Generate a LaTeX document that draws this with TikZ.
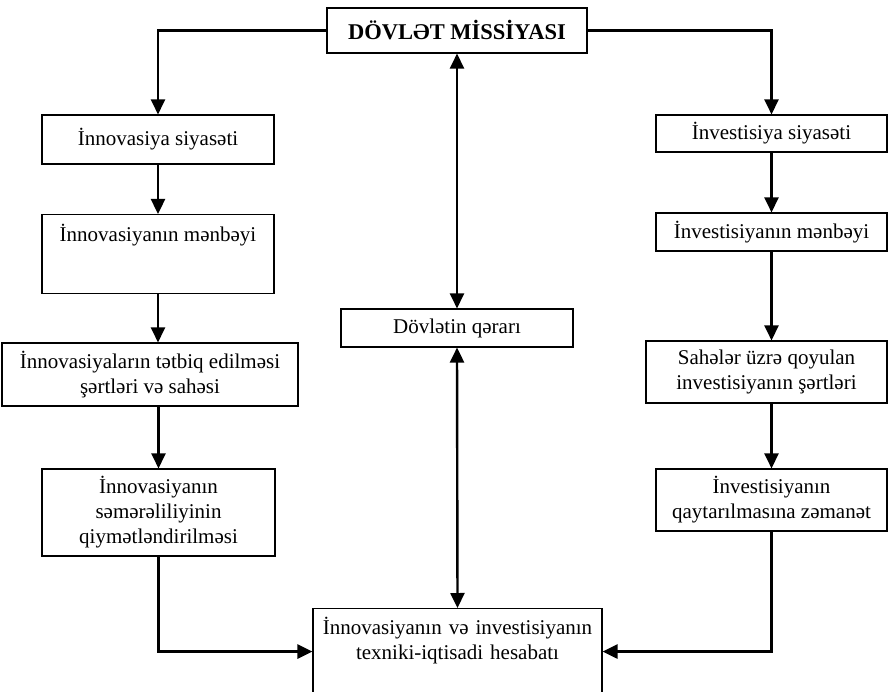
\documentclass[tikz,border=0pt]{standalone}
\usepackage{fontspec}
\setmainfont{Liberation Serif}
\usepackage{tikz}
\usetikzlibrary{arrows.meta}

\begin{document}
\begin{tikzpicture}[->,>={Triangle[length=15pt,width=14pt]},x=1pt,y=-1pt,
                    line width=2.4pt,font=\fontsize{21}{25}\selectfont]
  \tikzstyle{box}=[draw=black,line width=1.1pt,inner sep=0pt,align=center]
  \useasboundingbox (0,0) rectangle (888,692);

  \node[box,minimum width=260pt,minimum height=45pt,font=\fontsize{22.5}{25}\selectfont\bfseries]
       (mission) at (457,30.5) {DÖVLƏT MİSSİYASI};
  \node[box,minimum width=232pt,minimum height=38pt] (decision) at (457,328) {Dövlətin qərarı};
  \node[box,text width=289pt,text height=26pt,text depth=60pt,anchor=north]
       (report) at (457.5,608) {İnnovasiyanın və investisiyanın\\texniki-iqtisadi hesabatı};

  % innovasiya
  \node[box,minimum width=232pt,minimum height=49pt] (inn1) at (158,139.5) {İnnovasiya siyasəti};
  \node[box,minimum width=232pt,text height=27pt,text depth=52pt,anchor=north]
       (inn2) at (158,214) {İnnovasiyanın mənbəyi};
  \node[box,minimum width=296pt,minimum height=63pt] (inn3) at (150,374.5)
       {İnnovasiyaların tətbiq edilməsi\\şərtləri və sahəsi};
  \node[box,minimum width=233pt,minimum height=87pt] (inn4) at (158.5,512.5)
       {İnnovasiyanın\\səmərəliliyinin\\qiymətləndirilməsi};

  % investisiya
  \node[box,minimum width=231pt,minimum height=37pt] (inv1) at (771.5,133.5) {İnvestisiya siyasəti};
  \node[box,minimum width=231pt,minimum height=38pt] (inv2) at (771.5,232) {İnvestisiyanın mənbəyi};
  \node[box,minimum width=241pt,minimum height=62pt] (inv3) at (766.5,372)
       {Sahələr üzrə qoyulan\\investisiyanın şərtləri};
  \node[box,minimum width=231pt,minimum height=62pt] (inv4) at (771.5,500)
       {İnvestisiyanın\\qaytarılmasına zəmanət};

  \draw (mission.west) -| (inn1.north);
  \draw (mission.east) -| (inv1.north);
  \path (mission.south) edge [<->] (decision.north)
        (decision.south) edge [<->] (report.north)
        (inn1.south) edge (inn2.north)
        (inn2.south) edge (inn2.south |- inn3.north)
        (inn3.south -| inn4.north) edge (inn4.north)
        (inv1.south) edge (inv2.north)
        (inv2.south) edge (inv2.south |- inv3.north)
        (inv3.south -| inv4.north) edge (inv4.north);
  \draw (inn4.south) |- (report.west);
  \draw (inv4.south) |- (report.east);
\end{tikzpicture}
\end{document}
